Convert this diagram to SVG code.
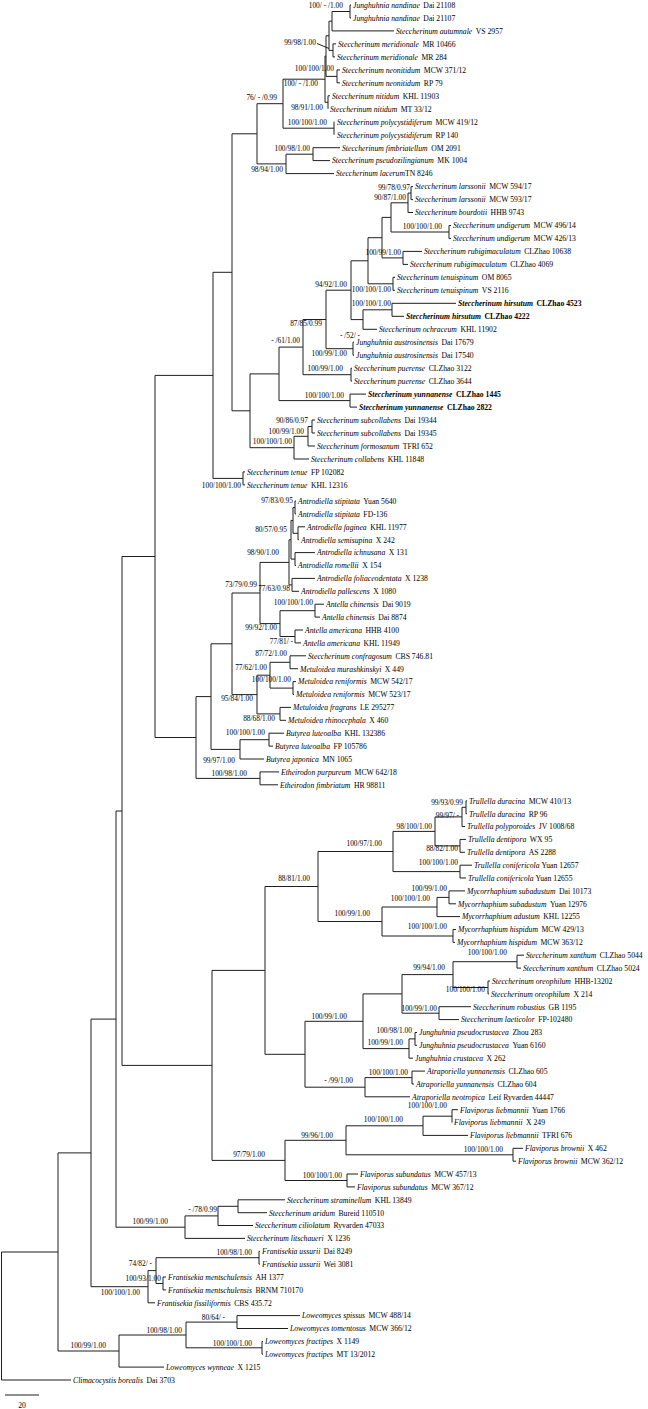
<svg xmlns="http://www.w3.org/2000/svg" width="648" height="1409" viewBox="0 0 648 1409">
<style>
.br{fill:none;stroke:#1f1f1f;stroke-width:1}
.t{font-family:"Liberation Serif","Times New Roman",serif;font-size:7.7px;fill:#000}
.i{font-style:italic}
.b{font-weight:bold}
.s{font-family:"Liberation Serif","Times New Roman",serif;font-size:7.4px;text-anchor:end;fill:#000}
</style>
<rect width="648" height="1409" fill="#fff"/>
<g id="connectors" class="br">
<path d="M350 5V18M350 5H351M350 18H351"/>
<path d="M332 11.5V30.9M332 11.5H350M332 30.9H394"/>
<path d="M333 43.9V56.9M333 43.9H336M333 56.9H335"/>
<path d="M329 21.2V50.4M329 21.2H332M329 50.4H333"/>
<path d="M337 69.9V82.8M337 69.9H340M337 82.8H340"/>
<path d="M326 35.8V76.4M326 35.8H329M326 76.4H337"/>
<path d="M328 95.8V108.8M328 95.8H330"/>
<path d="M325 56.1V102.3M325 56.1H326M325 102.3H328"/>
<path d="M334 121.7V134.7"/>
<path d="M283 79.2V128.2M283 79.2H325M283 128.2H334"/>
<path d="M313 147.7V160.6M313 147.7H340M313 160.6H330"/>
<path d="M286 154.2V173.6M286 154.2H313M286 173.6H334"/>
<path d="M257 103.7V163.9M257 103.7H283M257 163.9H286"/>
<path d="M411 186.6V199.6M411 186.6H413M411 199.6H413"/>
<path d="M408 193.1V212.5M408 193.1H411M408 212.5H413"/>
<path d="M449 225.5V238.5M449 225.5H451M449 238.5H451"/>
<path d="M391 202.8V232M391 202.8H408M391 232H449"/>
<path d="M403 251.4V264.4M403 251.4H422M403 264.4H408"/>
<path d="M382 217.4V257.9M382 217.4H391M382 257.9H403"/>
<path d="M393 277.3V290.3M393 277.3H395M393 290.3H395"/>
<path d="M368 237.7V283.8M368 237.7H382M368 283.8H393"/>
<path d="M392 303.3V316.3M392 303.3H456M392 316.3H404"/>
<path d="M363 309.8V329.3M363 309.8H392M363 329.3H377"/>
<path d="M351 260.8V319.6M351 260.8H368M351 319.6H363"/>
<path d="M353 342.2V355.2M353 342.2H354M353 355.2H354"/>
<path d="M326 290.2V348.7M326 290.2H351M326 348.7H353"/>
<path d="M351 368.2V381.1M351 368.2H352M351 381.1H352"/>
<path d="M303 319.5V374.7M303 319.5H326M303 374.7H351"/>
<path d="M350 394.1V407.1M350 394.1H366M350 407.1H357"/>
<path d="M279 347.1V400.6M279 347.1H303M279 400.6H350"/>
<path d="M312 420V433M312 420H315M312 433H315"/>
<path d="M308 426.5V446M308 426.5H312M308 446H315"/>
<path d="M294 436.3V459M294 436.3H308M294 459H309"/>
<path d="M250 373.9V447.7M250 373.9H279M250 447.7H294"/>
<path d="M232 133.8V410.8M232 133.8H257M232 410.8H250"/>
<path d="M243 471.9V484.9M243 471.9H245M243 484.9H245"/>
<path d="M213 272.3V478.4M213 272.3H232M213 478.4H243"/>
<path d="M295 501V513.9M295 501H296M295 513.9H296"/>
<path d="M298 526.8V539.7M298 526.8H305M298 539.7H299"/>
<path d="M293 507.5V533.3M293 507.5H295M293 533.3H298"/>
<path d="M295 552.6V565.5M295 552.6H315M295 565.5H296"/>
<path d="M291 520.4V559.1M291 520.4H293M291 559.1H295"/>
<path d="M292 578.4V591.3M292 578.4H315M292 591.3H299"/>
<path d="M289 539.8V584.9M289 539.8H291M289 584.9H292"/>
<path d="M315 604.2V617.1M315 604.2H324M315 617.1H320"/>
<path d="M295 630V642.9M295 630H303M295 642.9H301"/>
<path d="M280 610.7V636.5M280 610.7H315M280 636.5H295"/>
<path d="M260 562.4V623.6M260 562.4H289M260 623.6H280"/>
<path d="M290 655.8V668.7M290 655.8H306M290 668.7H298"/>
<path d="M293 681.6V694.5M293 681.6H296M293 694.5H294"/>
<path d="M270 662.3V688.1M270 662.3H290M270 688.1H293"/>
<path d="M280 707.4V720.3M280 707.4H291M280 720.3H286"/>
<path d="M257 675.2V713.9M257 675.2H270M257 713.9H280"/>
<path d="M232 593V694.6M232 593H260M232 694.6H257"/>
<path d="M269 733.2V746.1M269 733.2H284M269 746.1H273"/>
<path d="M240 739.7V759M240 739.7H269M240 759H264"/>
<path d="M211 643.8V749.4M211 643.8H232M211 749.4H240"/>
<path d="M260 771.9V784.8M260 771.9H279M260 784.8H278"/>
<path d="M196 696.6V778.4M196 696.6H211M196 778.4H260"/>
<path d="M155 375.4V737.5M155 375.4H213M155 737.5H196"/>
<path d="M466 800.8V813.7M466 800.8H467M466 813.7H467"/>
<path d="M462 807.3V826.5M462 807.3H466M462 826.5H465"/>
<path d="M460 839.4V852.3M460 839.4H466M460 852.3H465"/>
<path d="M435 816.9V845.9M435 816.9H462M435 845.9H460"/>
<path d="M460 865.2V878M460 865.2H472M460 878H466"/>
<path d="M393 831.4V871.6M393 831.4H435M393 871.6H460"/>
<path d="M449 890.9V903.8M449 890.9H465M449 903.8H456"/>
<path d="M437 897.4V916.6M437 897.4H449M437 916.6H460"/>
<path d="M453 929.5V942.4M453 929.5H456M453 942.4H455"/>
<path d="M382 907V936M382 907H437M382 936H453"/>
<path d="M318 851.5V921.5M318 851.5H393M318 921.5H382"/>
<path d="M517 955.2V968.1M517 955.2H524M517 968.1H521"/>
<path d="M488 981V993.9M488 981H490M488 993.9H489"/>
<path d="M453 961.7V987.5M453 961.7H517M453 987.5H488"/>
<path d="M439 1006.7V1019.6M439 1006.7H471M439 1019.6H459"/>
<path d="M402 974.6V1013.2M402 974.6H453M402 1013.2H439"/>
<path d="M415 1032.5V1045.3M415 1032.5H417M415 1045.3H417"/>
<path d="M409 1038.9V1058.2M409 1038.9H415M409 1058.2H413"/>
<path d="M363 993.9V1048.6M363 993.9H402M363 1048.6H409"/>
<path d="M412 1071.1V1084M412 1071.1H425M412 1084H414"/>
<path d="M365 1077.6V1096.8M365 1077.6H412M365 1096.8H410"/>
<path d="M305 1021.3V1087.2M305 1021.3H363M305 1087.2H365"/>
<path d="M265 886.5V1054.3M265 886.5H318M265 1054.3H305"/>
<path d="M452 1109.7V1122.6M452 1109.7H458"/>
<path d="M423 1116.2V1135.4M423 1116.2H452M423 1135.4H468"/>
<path d="M513 1148.3V1161.2M513 1148.3H523M513 1161.2H516"/>
<path d="M346 1125.8V1154.8M346 1125.8H423M346 1154.8H513"/>
<path d="M347 1174V1186.9M347 1174H358M347 1186.9H355"/>
<path d="M285 1140.3V1180.5M285 1140.3H346M285 1180.5H347"/>
<path d="M212 970.4V1160.4M212 970.4H265M212 1160.4H285"/>
<path d="M122 556.5V1065.4M122 556.5H155M122 1065.4H212"/>
<path d="M238 1199.8V1212.7M238 1199.8H285M238 1212.7H267"/>
<path d="M218 1206.3V1225.5M218 1206.3H238M218 1225.5H253"/>
<path d="M185 1215.9V1238.4M185 1215.9H218M185 1238.4H245"/>
<path d="M116 811V1227.2M116 811H122M116 1227.2H185"/>
<path d="M259 1251.3V1264.1M259 1251.3H260M259 1264.1H260"/>
<path d="M163 1277V1289.9M163 1277H166M163 1289.9H166"/>
<path d="M156 1257.7V1283.5M156 1257.7H259M156 1283.5H163"/>
<path d="M148 1270.6V1302.8M148 1270.6H156M148 1302.8H155"/>
<path d="M91 1019.1V1286.7M91 1019.1H116M91 1286.7H148"/>
<path d="M237 1315.6V1328.5M237 1315.6H300M237 1328.5H288"/>
<path d="M262 1341.4V1354.2M262 1341.4H263M262 1354.2H263"/>
<path d="M186 1322.1V1347.8M186 1322.1H237M186 1347.8H262"/>
<path d="M119 1335V1367.1M119 1335H186M119 1367.1H164"/>
<path d="M58 1152.9V1351M58 1152.9H91M58 1351H119"/>
<path d="M1.5 1252V1380M1.5 1252H58M1.5 1380H71"/>
<path d="M317 43.5L329 48.5"/>
<path d="M5 1395H39"/>
</g>
<g id="tips" class="t">
<g id="tip-001"><text x="353" y="7.8"><tspan class="i">Junghuhnia nandinae</tspan><tspan dx="3.5">Dai 21108</tspan></text></g>
<g id="tip-002"><text x="353" y="20.8"><tspan class="i">Junghuhnia nandinae</tspan><tspan dx="3.5">Dai 21107</tspan></text></g>
<g id="tip-003"><text x="396" y="33.7"><tspan class="i">Steccherinum autumnale</tspan><tspan dx="3.5">VS 2957</tspan></text></g>
<g id="tip-004"><text x="338" y="46.7"><tspan class="i">Steccherinum meridionale</tspan><tspan dx="3.5">MR 10466</tspan></text></g>
<g id="tip-005"><text x="337" y="59.7"><tspan class="i">Steccherinum meridionale</tspan><tspan dx="3.5">MR 284</tspan></text></g>
<g id="tip-006"><text x="342" y="72.7"><tspan class="i">Steccherinum neonitidum</tspan><tspan dx="3.5">MCW 371/12</tspan></text></g>
<g id="tip-007"><text x="342" y="85.6"><tspan class="i">Steccherinum neonitidum</tspan><tspan dx="3.5">RP 79</tspan></text></g>
<g id="tip-008"><text x="332" y="98.6"><tspan class="i">Steccherinum nitidum</tspan><tspan dx="3.5">KHL 11903</tspan></text></g>
<g id="tip-009"><text x="330" y="111.6"><tspan class="i">Steccherinum nitidum</tspan><tspan dx="3.5">MT 33/12</tspan></text></g>
<g id="tip-010"><text x="337" y="124.5"><tspan class="i">Steccherinum polycystidiferum</tspan><tspan dx="3.5">MCW 419/12</tspan></text></g>
<g id="tip-011"><text x="337" y="137.5"><tspan class="i">Steccherinum polycystidiferum</tspan><tspan dx="3.5">RP 140</tspan></text></g>
<g id="tip-012"><text x="342" y="150.5"><tspan class="i">Steccherinum fimbriatellum</tspan><tspan dx="3.5">OM 2091</tspan></text></g>
<g id="tip-013"><text x="332" y="163.4"><tspan class="i">Steccherinum pseudozilingianum</tspan><tspan dx="3.5">MK 1004</tspan></text></g>
<g id="tip-014"><text x="336" y="176.4"><tspan class="i">Steccherinum lacerum</tspan><tspan>TN 8246</tspan></text></g>
<g id="tip-015"><text x="415" y="189.4"><tspan class="i">Steccherinum larssonii</tspan><tspan dx="3.5">MCW 594/17</tspan></text></g>
<g id="tip-016"><text x="415" y="202.4"><tspan class="i">Steccherinum larssonii</tspan><tspan dx="3.5">MCW 593/17</tspan></text></g>
<g id="tip-017"><text x="415" y="215.3"><tspan class="i">Steccherinum bourdotii</tspan><tspan dx="3.5">HHB 9743</tspan></text></g>
<g id="tip-018"><text x="453" y="228.3"><tspan class="i">Steccherinum undigerum</tspan><tspan dx="3.5">MCW 496/14</tspan></text></g>
<g id="tip-019"><text x="453" y="241.3"><tspan class="i">Steccherinum undigerum</tspan><tspan dx="3.5">MCW 426/13</tspan></text></g>
<g id="tip-020"><text x="424" y="254.2"><tspan class="i">Steccherinum rubigimaculatum</tspan><tspan dx="3.5">CLZhao 10638</tspan></text></g>
<g id="tip-021"><text x="410" y="267.2"><tspan class="i">Steccherinum rubigimaculatum</tspan><tspan dx="3.5">CLZhao 4069</tspan></text></g>
<g id="tip-022"><text x="397" y="280.1"><tspan class="i">Steccherinum tenuispinum</tspan><tspan dx="3.5">OM 8065</tspan></text></g>
<g id="tip-023"><text x="397" y="293.1"><tspan class="i">Steccherinum tenuispinum</tspan><tspan dx="3.5">VS 2116</tspan></text></g>
<g id="tip-024"><text class="b" x="458" y="306.1"><tspan class="i">Steccherinum hirsutum</tspan><tspan dx="3.5">CLZhao 4523</tspan></text></g>
<g id="tip-025"><text class="b" x="406" y="319.1"><tspan class="i">Steccherinum hirsutum</tspan><tspan dx="3.5">CLZhao 4222</tspan></text></g>
<g id="tip-026"><text x="379" y="332.1"><tspan class="i">Steccherinum ochraceum</tspan><tspan dx="3.5">KHL 11902</tspan></text></g>
<g id="tip-027"><text x="356" y="345"><tspan class="i">Junghuhnia austrosinensis</tspan><tspan dx="3.5">Dai 17679</tspan></text></g>
<g id="tip-028"><text x="356" y="358"><tspan class="i">Junghuhnia austrosinensis</tspan><tspan dx="3.5">Dai 17540</tspan></text></g>
<g id="tip-029"><text x="354" y="371"><tspan class="i">Steccherinum puerense</tspan><tspan dx="3.5">CLZhao 3122</tspan></text></g>
<g id="tip-030"><text x="354" y="383.9"><tspan class="i">Steccherinum puerense</tspan><tspan dx="3.5">CLZhao 3644</tspan></text></g>
<g id="tip-031"><text class="b" x="368" y="396.9"><tspan class="i">Steccherinum yunnanense</tspan><tspan dx="3.5">CLZhao 1445</tspan></text></g>
<g id="tip-032"><text class="b" x="359" y="409.9"><tspan class="i">Steccherinum yunnanense</tspan><tspan dx="3.5">CLZhao 2822</tspan></text></g>
<g id="tip-033"><text x="317" y="422.8"><tspan class="i">Steccherinum subcollabens</tspan><tspan dx="3.5">Dai 19344</tspan></text></g>
<g id="tip-034"><text x="317" y="435.8"><tspan class="i">Steccherinum subcollabens</tspan><tspan dx="3.5">Dai 19345</tspan></text></g>
<g id="tip-035"><text x="317" y="448.8"><tspan class="i">Steccherinum formosanum</tspan><tspan dx="3.5">TFRI 652</tspan></text></g>
<g id="tip-036"><text x="311" y="461.8"><tspan class="i">Steccherinum collabens</tspan><tspan dx="3.5">KHL 11848</tspan></text></g>
<g id="tip-037"><text x="247" y="474.7"><tspan class="i">Steccherinum tenue</tspan><tspan dx="3.5">FP 102082</tspan></text></g>
<g id="tip-038"><text x="247" y="487.7"><tspan class="i">Steccherinum tenue</tspan><tspan dx="3.5">KHL 12316</tspan></text></g>
<g id="tip-039"><text x="298" y="503.8"><tspan class="i">Antrodiella stipitata</tspan><tspan dx="3.5">Yuan 5640</tspan></text></g>
<g id="tip-040"><text x="298" y="516.7"><tspan class="i">Antrodiella stipitata</tspan><tspan dx="3.5">FD-136</tspan></text></g>
<g id="tip-041"><text x="307" y="529.6"><tspan class="i">Antrodiella faginea</tspan><tspan dx="3.5">KHL 11977</tspan></text></g>
<g id="tip-042"><text x="301" y="542.5"><tspan class="i">Antrodiella semisupina</tspan><tspan dx="3.5">X 242</tspan></text></g>
<g id="tip-043"><text x="317" y="555.4"><tspan class="i">Antrodiella ichnusana</tspan><tspan dx="3.5">X 131</tspan></text></g>
<g id="tip-044"><text x="298" y="568.3"><tspan class="i">Antrodiella romellii</tspan><tspan dx="3.5">X 154</tspan></text></g>
<g id="tip-045"><text x="317" y="581.2"><tspan class="i">Antrodiella foliaceodentata</tspan><tspan dx="3.5">X 1238</tspan></text></g>
<g id="tip-046"><text x="301" y="594.1"><tspan class="i">Antrodiella pallescens</tspan><tspan dx="3.5">X 1080</tspan></text></g>
<g id="tip-047"><text x="326" y="607"><tspan class="i">Antella chinensis</tspan><tspan dx="3.5">Dai 9019</tspan></text></g>
<g id="tip-048"><text x="322" y="619.9"><tspan class="i">Antella chinensis</tspan><tspan dx="3.5">Dai 8874</tspan></text></g>
<g id="tip-049"><text x="305" y="632.8"><tspan class="i">Antella americana</tspan><tspan dx="3.5">HHB 4100</tspan></text></g>
<g id="tip-050"><text x="303" y="645.7"><tspan class="i">Antella americana</tspan><tspan dx="3.5">KHL 11949</tspan></text></g>
<g id="tip-051"><text x="308" y="658.6"><tspan class="i">Steccherinum confragosum</tspan><tspan dx="3.5">CBS 746.81</tspan></text></g>
<g id="tip-052"><text x="300" y="671.5"><tspan class="i">Metuloidea murashkinskyi</tspan><tspan dx="3.5">X 449</tspan></text></g>
<g id="tip-053"><text x="298" y="684.4"><tspan class="i">Metuloidea reniformis</tspan><tspan dx="3.5">MCW 542/17</tspan></text></g>
<g id="tip-054"><text x="296" y="697.3"><tspan class="i">Metuloidea reniformis</tspan><tspan dx="3.5">MCW 523/17</tspan></text></g>
<g id="tip-055"><text x="293" y="710.2"><tspan class="i">Metuloidea fragrans</tspan><tspan dx="3.5">LE 295277</tspan></text></g>
<g id="tip-056"><text x="288" y="723.1"><tspan class="i">Metuloidea rhinocephala</tspan><tspan dx="3.5">X 460</tspan></text></g>
<g id="tip-057"><text x="286" y="736"><tspan class="i">Butyrea luteoalba</tspan><tspan dx="3.5">KHL 132386</tspan></text></g>
<g id="tip-058"><text x="275" y="748.9"><tspan class="i">Butyrea luteoalba</tspan><tspan dx="3.5">FP 105786</tspan></text></g>
<g id="tip-059"><text x="266" y="761.8"><tspan class="i">Butyrea japonica</tspan><tspan dx="3.5">MN 1065</tspan></text></g>
<g id="tip-060"><text x="281" y="774.7"><tspan class="i">Etheirodon purpureum</tspan><tspan dx="3.5">MCW 642/18</tspan></text></g>
<g id="tip-061"><text x="280" y="787.6"><tspan class="i">Etheirodon fimbriatum</tspan><tspan dx="3.5">HR 98811</tspan></text></g>
<g id="tip-062"><text x="469" y="803.6"><tspan class="i">Trullella duracina</tspan><tspan dx="3.5">MCW 410/13</tspan></text></g>
<g id="tip-063"><text x="469" y="816.5"><tspan class="i">Trullella duracina</tspan><tspan dx="3.5">RP 96</tspan></text></g>
<g id="tip-064"><text x="467" y="829.3"><tspan class="i">Trullella polyporoides</tspan><tspan dx="3.5">JV 1008/68</tspan></text></g>
<g id="tip-065"><text x="468" y="842.2"><tspan class="i">Trullella dentipora</tspan><tspan dx="3.5">WX 95</tspan></text></g>
<g id="tip-066"><text x="467" y="855.1"><tspan class="i">Trullella dentipora</tspan><tspan dx="3.5">AS 2288</tspan></text></g>
<g id="tip-067"><text x="474" y="868"><tspan class="i">Trullella conifericola</tspan><tspan dx="2">Yuan 12657</tspan></text></g>
<g id="tip-068"><text x="468" y="880.8"><tspan class="i">Trullella conifericola</tspan><tspan dx="2">Yuan 12655</tspan></text></g>
<g id="tip-069"><text x="467" y="893.7"><tspan class="i">Mycorrhaphium subadustum</tspan><tspan dx="3.5">Dai 10173</tspan></text></g>
<g id="tip-070"><text x="458" y="906.6"><tspan class="i">Mycorrhaphium subadustum</tspan><tspan dx="3.5">Yuan 12976</tspan></text></g>
<g id="tip-071"><text x="462" y="919.4"><tspan class="i">Mycorrhaphium adustum</tspan><tspan dx="3.5">KHL 12255</tspan></text></g>
<g id="tip-072"><text x="458" y="932.3"><tspan class="i">Mycorrhaphium hispidum</tspan><tspan dx="3.5">MCW 429/13</tspan></text></g>
<g id="tip-073"><text x="457" y="945.2"><tspan class="i">Mycorrhaphium hispidum</tspan><tspan dx="3.5">MCW 363/12</tspan></text></g>
<g id="tip-074"><text x="526" y="958"><tspan class="i">Steccherinum xanthum</tspan><tspan dx="3.5">CLZhao 5044</tspan></text></g>
<g id="tip-075"><text x="523" y="970.9"><tspan class="i">Steccherinum xanthum</tspan><tspan dx="3.5">CLZhao 5024</tspan></text></g>
<g id="tip-076"><text x="492" y="983.8"><tspan class="i">Steccherinum oreophilum</tspan><tspan dx="3.5">HHB-13202</tspan></text></g>
<g id="tip-077"><text x="491" y="996.7"><tspan class="i">Steccherinum oreophilum</tspan><tspan dx="3.5">X 214</tspan></text></g>
<g id="tip-078"><text x="473" y="1009.5"><tspan class="i">Steccherinum robustius</tspan><tspan dx="3.5">GB 1195</tspan></text></g>
<g id="tip-079"><text x="461" y="1022.4"><tspan class="i">Steccherinum laeticolor</tspan><tspan dx="3.5">FP-102480</tspan></text></g>
<g id="tip-080"><text x="419" y="1035.3"><tspan class="i">Junghuhnia pseudocrustacea</tspan><tspan dx="3.5">Zhou 283</tspan></text></g>
<g id="tip-081"><text x="419" y="1048.1"><tspan class="i">Junghuhnia pseudocrustacea</tspan><tspan dx="3.5">Yuan 6160</tspan></text></g>
<g id="tip-082"><text x="415" y="1061"><tspan class="i">Junghuhnia crustacea</tspan><tspan dx="3.5">X 262</tspan></text></g>
<g id="tip-083"><text x="427" y="1073.9"><tspan class="i">Atraporiella yunnanensis</tspan><tspan dx="3.5">CLZhao 605</tspan></text></g>
<g id="tip-084"><text x="416" y="1086.8"><tspan class="i">Atraporiella yunnanensis</tspan><tspan dx="3.5">CLZhao 604</tspan></text></g>
<g id="tip-085"><text x="412" y="1099.6"><tspan class="i">Atraporiella neotropica</tspan><tspan dx="3.5">Leif Ryvarden 44447</tspan></text></g>
<g id="tip-086"><text x="460" y="1112.5"><tspan class="i">Flaviporus liebmannii</tspan><tspan dx="3.5">Yuan 1766</tspan></text></g>
<g id="tip-087"><text x="454" y="1125.4"><tspan class="i">Flaviporus liebmannii</tspan><tspan dx="3.5">X 249</tspan></text></g>
<g id="tip-088"><text x="470" y="1138.2"><tspan class="i">Flaviporus liebmannii</tspan><tspan dx="3.5">TFRI 676</tspan></text></g>
<g id="tip-089"><text x="525" y="1151.1"><tspan class="i">Flaviporus brownii</tspan><tspan dx="3.5">X 462</tspan></text></g>
<g id="tip-090"><text x="518" y="1164"><tspan class="i">Flaviporus brownii</tspan><tspan dx="3.5">MCW 362/12</tspan></text></g>
<g id="tip-091"><text x="360" y="1176.8"><tspan class="i">Flaviporus subundatus</tspan><tspan dx="3.5">MCW 457/13</tspan></text></g>
<g id="tip-092"><text x="357" y="1189.7"><tspan class="i">Flaviporus subundatus</tspan><tspan dx="3.5">MCW 367/12</tspan></text></g>
<g id="tip-093"><text x="287" y="1202.6"><tspan class="i">Steccherinum straminellum</tspan><tspan dx="3.5">KHL 13849</tspan></text></g>
<g id="tip-094"><text x="269" y="1215.5"><tspan class="i">Steccherinum aridum</tspan><tspan dx="3.5">Bureid 110510</tspan></text></g>
<g id="tip-095"><text x="255" y="1228.3"><tspan class="i">Steccherinum ciliolatum</tspan><tspan dx="3.5">Ryvarden 47033</tspan></text></g>
<g id="tip-096"><text x="247" y="1241.2"><tspan class="i">Steccherinum litschaueri</tspan><tspan dx="3.5">X 1236</tspan></text></g>
<g id="tip-097"><text x="262" y="1254.1"><tspan class="i">Frantisekia ussurii</tspan><tspan dx="3.5">Dai 8249</tspan></text></g>
<g id="tip-098"><text x="262" y="1266.9"><tspan class="i">Frantisekia ussurii</tspan><tspan dx="3.5">Wei 3081</tspan></text></g>
<g id="tip-099"><text x="168" y="1279.8"><tspan class="i">Frantisekia mentschulensis</tspan><tspan dx="3.5">AH 1377</tspan></text></g>
<g id="tip-100"><text x="168" y="1292.7"><tspan class="i">Frantisekia mentschulensis</tspan><tspan dx="3.5">BRNM 710170</tspan></text></g>
<g id="tip-101"><text x="157" y="1305.6"><tspan class="i">Frantisekia fissiliformis</tspan><tspan dx="3.5">CBS 435.72</tspan></text></g>
<g id="tip-102"><text x="302" y="1318.4"><tspan class="i">Loweomyces spissus</tspan><tspan dx="3.5">MCW 488/14</tspan></text></g>
<g id="tip-103"><text x="290" y="1331.3"><tspan class="i">Loweomyces tomentosus</tspan><tspan dx="3.5">MCW 366/12</tspan></text></g>
<g id="tip-104"><text x="265" y="1344.2"><tspan class="i">Loweomyces fractipes</tspan><tspan dx="3.5">X 1149</tspan></text></g>
<g id="tip-105"><text x="265" y="1357"><tspan class="i">Loweomyces fractipes</tspan><tspan dx="3.5">MT 13/2012</tspan></text></g>
<g id="tip-106"><text x="166" y="1369.9"><tspan class="i">Loweomyces wynneae</tspan><tspan dx="3.5">X 1215</tspan></text></g>
<g id="tip-107"><text x="73" y="1382.8"><tspan class="i">Climacocystis borealis</tspan><tspan dx="3.5">Dai 3703</tspan></text></g>
</g>
<g id="supports" class="s">
<g id="sup-01"><text x="343" y="8">100/ - /1.00</text></g>
<g id="sup-02"><text x="316" y="45">99/98/1.00</text></g>
<g id="sup-03"><text x="334" y="71">100/100/1.00</text></g>
<g id="sup-04"><text x="318" y="86">100/ - /1.00</text></g>
<g id="sup-05"><text x="277" y="100">76/ - /0.99</text></g>
<g id="sup-06"><text x="323" y="110">98/91/1.00</text></g>
<g id="sup-07"><text x="327" y="125">100/100/1.00</text></g>
<g id="sup-08"><text x="310" y="151">100/98/1.00</text></g>
<g id="sup-09"><text x="283" y="172">98/94/1.00</text></g>
<g id="sup-10"><text x="410" y="190">99/78/0.97</text></g>
<g id="sup-11"><text x="406" y="200">90/87/1.00</text></g>
<g id="sup-12"><text x="442" y="229">100/100/1.00</text></g>
<g id="sup-13"><text x="401" y="255">100/99/1.00</text></g>
<g id="sup-14"><text x="347" y="287">94/92/1.00</text></g>
<g id="sup-15"><text x="391" y="292">100/100/1.00</text></g>
<g id="sup-16"><text x="391" y="306">100/100/1.00</text></g>
<g id="sup-17"><text x="322" y="326">87/85/0.99</text></g>
<g id="sup-18"><text x="360" y="338">- /52/ -</text></g>
<g id="sup-19"><text x="300" y="343">- /61/1.00</text></g>
<g id="sup-20"><text x="347" y="356">100/99/1.00</text></g>
<g id="sup-21"><text x="343" y="371">100/99/1.00</text></g>
<g id="sup-22"><text x="344" y="398">100/100/1.00</text></g>
<g id="sup-23"><text x="308" y="423">90/86/0.97</text></g>
<g id="sup-24"><text x="304" y="434">100/99/1.00</text></g>
<g id="sup-25"><text x="292" y="444">100/100/1.00</text></g>
<g id="sup-26"><text x="241" y="488">100/100/1.00</text></g>
<g id="sup-27"><text x="293" y="503">97/83/0.95</text></g>
<g id="sup-28"><text x="287" y="532">80/57/0.95</text></g>
<g id="sup-29"><text x="279" y="555">98/90/1.00</text></g>
<g id="sup-30"><text x="257" y="587">73/79/0.99</text></g>
<g id="sup-31"><text x="290" y="591">77/63/0.98</text></g>
<g id="sup-32"><text x="313" y="605">100/100/1.00</text></g>
<g id="sup-33"><text x="277" y="630">99/92/1.00</text></g>
<g id="sup-34"><text x="293" y="644">77/81/ -</text></g>
<g id="sup-35"><text x="287" y="656">87/72/1.00</text></g>
<g id="sup-36"><text x="267" y="670">77/62/1.00</text></g>
<g id="sup-37"><text x="291" y="682">100/100/1.00</text></g>
<g id="sup-38"><text x="253" y="701">95/84/1.00</text></g>
<g id="sup-39"><text x="275" y="721">88/68/1.00</text></g>
<g id="sup-40"><text x="265" y="735">100/100/1.00</text></g>
<g id="sup-41"><text x="235" y="763">99/97/1.00</text></g>
<g id="sup-42"><text x="247" y="776">100/98/1.00</text></g>
<g id="sup-43"><text x="463" y="805">99/93/0.99</text></g>
<g id="sup-44"><text x="459" y="818">99/97/ -</text></g>
<g id="sup-45"><text x="432" y="829">98/100/1.00</text></g>
<g id="sup-46"><text x="382" y="846">100/97/1.00</text></g>
<g id="sup-47"><text x="458" y="851">88/82/1.00</text></g>
<g id="sup-48"><text x="458" y="865">100/100/1.00</text></g>
<g id="sup-49"><text x="310" y="881">88/81/1.00</text></g>
<g id="sup-50"><text x="447" y="891">100/99/1.00</text></g>
<g id="sup-51"><text x="430" y="901">100/100/1.00</text></g>
<g id="sup-52"><text x="370" y="916">100/99/1.00</text></g>
<g id="sup-53"><text x="447" y="929">100/100/1.00</text></g>
<g id="sup-54"><text x="507" y="955">100/100/1.00</text></g>
<g id="sup-55"><text x="445" y="970">99/94/1.00</text></g>
<g id="sup-56"><text x="485" y="992">100/100/1.00</text></g>
<g id="sup-57"><text x="437" y="1011">100/99/1.00</text></g>
<g id="sup-58"><text x="347" y="1019">100/99/1.00</text></g>
<g id="sup-59"><text x="412" y="1033">100/98/1.00</text></g>
<g id="sup-60"><text x="403" y="1045">100/99/1.00</text></g>
<g id="sup-61"><text x="408" y="1075">100/100/1.00</text></g>
<g id="sup-62"><text x="353" y="1083">- /99/1.00</text></g>
<g id="sup-63"><text x="447" y="1108">100/100/1.00</text></g>
<g id="sup-64"><text x="403" y="1122">100/100/1.00</text></g>
<g id="sup-65"><text x="333" y="1138">99/96/1.00</text></g>
<g id="sup-66"><text x="503" y="1152">100/100/1.00</text></g>
<g id="sup-67"><text x="265" y="1157">97/79/1.00</text></g>
<g id="sup-68"><text x="342" y="1178">100/100/1.00</text></g>
<g id="sup-69"><text x="217" y="1212">- /78/0.99</text></g>
<g id="sup-70"><text x="168" y="1224">100/99/1.00</text></g>
<g id="sup-71"><text x="252" y="1255">100/98/1.00</text></g>
<g id="sup-72"><text x="152" y="1266">74/82/ -</text></g>
<g id="sup-73"><text x="161" y="1281">100/93/1.00</text></g>
<g id="sup-74"><text x="140" y="1295">100/100/1.00</text></g>
<g id="sup-75"><text x="225" y="1320">80/64/ -</text></g>
<g id="sup-76"><text x="182" y="1333">100/98/1.00</text></g>
<g id="sup-77"><text x="252" y="1346">100/100/1.00</text></g>
<g id="sup-78"><text x="106" y="1348">100/99/1.00</text></g>
</g>
<g id="scale"><text class="t" x="22" y="1408" text-anchor="middle">20</text></g>
</svg>
